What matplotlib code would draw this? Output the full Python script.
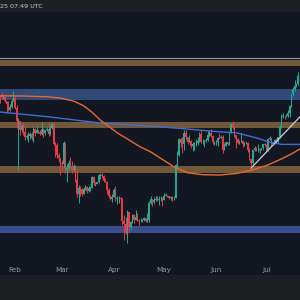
import pandas as pd
import numpy as np
import matplotlib
matplotlib.use('Agg')
import matplotlib.pyplot as plt
import matplotlib.dates as mdates
from matplotlib.patches import Rectangle

# ==========================================
# 1. 数据 (ETH 日线, 2025-01-23 起)
# ==========================================
start_day = '2025-01-23'
first_open = 3340

close = [3330, 3310, 3320, 3240, 3180, 3080, 3120, 3250, 3300,
         3110, 2870, 2880, 2730, 2790, 2690, 2620, 2630, 2630, 2660, 2600, 2740, 2680, 2720,
         2690, 2660, 2740, 2670, 2720, 2740, 2660, 2760, 2820, 2510, 2490, 2340, 2310, 2240,
         2220, 2520, 2150, 2170, 2240, 2200, 2140, 2200, 2020, 1860, 1920, 1910, 1860, 1910,
         1940, 1890, 1930, 1930, 2060, 1980, 1970, 1990, 2080, 2080, 2070, 2010, 2000, 1900,
         1830, 1800, 1820,
         1900, 1800, 1810, 1810, 1800, 1580, 1550, 1470, 1670, 1520, 1570, 1640, 1590, 1620,
         1590, 1580, 1580, 1590, 1610, 1580, 1590, 1760, 1800, 1770, 1790, 1800, 1790, 1800,
         1800, 1790,
         1840, 1840, 1830, 1810, 1820, 1810, 1810, 2210, 2340, 2580, 2520, 2500, 2680, 2610,
         2540, 2550, 2470, 2500, 2520, 2520, 2550, 2660, 2530, 2530, 2550, 2560, 2650, 2680,
         2630, 2530, 2530,
         2540, 2600, 2590, 2610, 2420, 2480, 2530, 2510, 2680, 2820, 2770, 2640, 2580, 2520,
         2550, 2550, 2510, 2520, 2520, 2410, 2290, 2230, 2410, 2450, 2420, 2420, 2430, 2440,
         2500, 2490,
         2410, 2580, 2590, 2510, 2520, 2570, 2540, 2610, 2770, 2950, 2950, 2940, 2970, 3010,
         3140, 3370, 3480, 3540, 3590, 3760]

high = [3350, 3420, 3350, 3370, 3250, 3250, 3180, 3280, 3440,
        3330, 3160, 2920, 2880, 2820, 2850, 2800, 2660, 2700, 2690, 2700, 2780, 2760, 2790,
        2730, 2720, 2850, 2750, 2730, 2780, 2850, 2800, 2850, 2830, 2530, 2520, 2380, 2310,
        2270, 2550, 2520, 2220, 2280, 2320, 2260, 2220, 2210, 2140, 1960, 1950, 1920, 1940,
        1960, 1950, 1950, 1940, 2070, 2070, 2000, 2000, 2090, 2100, 2100, 2080, 2040, 2010,
        1920, 1850, 1860,
        1920, 1950, 1830, 1830, 1820, 1810, 1640, 1620, 1690, 1670, 1580, 1650, 1650, 1690,
        1660, 1600, 1610, 1600, 1620, 1610, 1660, 1780, 1830, 1800, 1820, 1830, 1830, 1830,
        1840, 1820,
        1870, 1870, 1850, 1840, 1840, 1830, 1840, 2220, 2400, 2600, 2600, 2620, 2730, 2720,
        2620, 2640, 2560, 2530, 2540, 2580, 2620, 2690, 2730, 2580, 2560, 2590, 2710, 2730,
        2740, 2650, 2550,
        2560, 2610, 2670, 2650, 2650, 2520, 2540, 2540, 2690, 2830, 2880, 2790, 2640, 2590,
        2560, 2680, 2560, 2530, 2550, 2530, 2440, 2290, 2420, 2480, 2460, 2510, 2450, 2450,
        2510, 2520,
        2500, 2590, 2630, 2600, 2520, 2580, 2590, 2620, 2800, 2990, 3020, 2960, 3000, 3080,
        3160, 3390, 3520, 3680, 3610, 3860]

low = [3200, 3290, 3280, 3230, 3020, 3060, 3050, 3100, 3250,
       3090, 2760, 2150, 2650, 2700, 2650, 2560, 2580, 2530, 2580, 2570, 2540, 2630, 2670,
       2670, 2650, 2650, 2610, 2650, 2710, 2630, 2650, 2740, 2490, 2320, 2300, 2250, 2080,
       2150, 2170, 2100, 1990, 2140, 2180, 2100, 2130, 2000, 1820, 1760, 1840, 1830, 1860,
       1900, 1870, 1880, 1890, 1920, 1960, 1950, 1970, 1980, 2030, 2040, 1990, 1990, 1860,
       1810, 1790, 1770,
       1820, 1780, 1750, 1760, 1780, 1540, 1410, 1460, 1385, 1470, 1510, 1560, 1560, 1590,
       1580, 1540, 1570, 1570, 1580, 1570, 1570, 1570, 1750, 1730, 1750, 1780, 1780, 1740,
       1780, 1730,
       1790, 1830, 1820, 1800, 1790, 1780, 1790, 1810, 2170, 2330, 2460, 2380, 2420, 2560,
       2500, 2530, 2440, 2400, 2410, 2480, 2490, 2540, 2520, 2510, 2460, 2540, 2550, 2610,
       2620, 2500, 2490,
       2490, 2480, 2580, 2590, 2380, 2410, 2470, 2490, 2490, 2680, 2740, 2620, 2440, 2500,
       2510, 2540, 2460, 2480, 2500, 2390, 2270, 2150, 2220, 2400, 2400, 2390, 2380, 2420,
       2420, 2470,
       2390, 2400, 2570, 2480, 2490, 2500, 2520, 2520, 2600, 2750, 2930, 2910, 2940, 2940,
       2950, 3120, 3330, 3440, 3530, 3570]

# 均线取样点
ma_slow_dates = ['2025-01-23', '2025-02-05', '2025-02-20', '2025-02-28', '2025-03-08',
                 '2025-03-14', '2025-03-19', '2025-03-24', '2025-04-03', '2025-04-17',
                 '2025-04-23', '2025-05-01', '2025-05-08', '2025-05-15', '2025-05-24',
                 '2025-06-03', '2025-06-13', '2025-06-22', '2025-07-02', '2025-07-10',
                 '2025-07-16', '2025-07-21']
ma_slow = [3345, 3340, 3325, 3300, 3240, 3150, 3030, 2890, 2680, 2460, 2390, 2270, 2170,
           2110, 2085, 2080, 2100, 2140, 2210, 2290, 2360, 2430]

ma_fast_dates = ['2025-01-23', '2025-02-22', '2025-03-24', '2025-04-23', '2025-05-13',
                 '2025-06-03', '2025-06-13', '2025-06-25', '2025-07-02', '2025-07-10',
                 '2025-07-21']
ma_fast = [3035, 2945, 2840, 2790, 2745, 2695, 2680, 2600, 2540, 2500, 2500]

trend_dates = ['2025-06-22', '2025-07-21']
trend_vals = [2170, 2945]

# 水平区域
orange_zones = [(4000, 4140), (2752, 2863), (2110, 2196)]
blue_zones = [(3260, 3476, '#2f4a78'), (1473, 1533, '#3a4d8c')]
top_line = 4190

month_ticks = ['2025-02-01', '2025-03-01', '2025-04-01', '2025-05-01', '2025-06-01', '2025-07-01']
month_labels = ['Feb', 'Mar', 'Apr', 'May', 'Jun', 'Jul']

# ==========================================
# 2. 绘图
# ==========================================
bg = '#131722'
fig = plt.figure(figsize=(3, 3), dpi=100, facecolor=bg)
fig.patches.append(Rectangle((0, 1 - 12 / 300), 1, 12 / 300, transform=fig.transFigure,
                             facecolor='#1e1f23', edgecolor='none', zorder=0))
fig.patches.append(Rectangle((0, 0), 1, 25 / 300, transform=fig.transFigure,
                             facecolor='#1e1f22', edgecolor='none', zorder=0))
fig.text(0.0, 1 - 6 / 300, '25 07:49 UTC', color='#c8cad0', fontsize=4.6,
         va='center', ha='left')

ax = fig.add_axes([0, 38 / 300, 1, 250 / 300])
ax.set_facecolor(bg)
for s in ax.spines.values():
    s.set_visible(False)

dates = pd.date_range(start_day, periods=len(close), freq='D')
x = mdates.date2num(dates)
c = np.array(close, dtype=float)
o = np.concatenate([[first_open], c[:-1]])
h = np.array(high, dtype=float)
l = np.array(low, dtype=float)
up = c >= o
colors = np.where(up, '#22ab94', '#f23645')

for lo_, hi_ in orange_zones:
    ax.axhspan(lo_, hi_, color='#72583a', lw=0, zorder=1)
for lo_, hi_, col in blue_zones:
    ax.axhspan(lo_, hi_, color=col, lw=0, zorder=1)
ax.axhline(top_line, color='#9a9ca3', lw=0.8, zorder=1)

ax.vlines(x, l, h, colors=colors, lw=0.7, zorder=3)
ax.bar(x, np.maximum(np.abs(c - o), 4), bottom=np.minimum(o, c), width=0.85,
       color=colors, lw=0, zorder=3)

ax.plot(mdates.date2num(pd.to_datetime(ma_fast_dates)), ma_fast, color='#3d6fd6', lw=1, zorder=4)
ax.plot(mdates.date2num(pd.to_datetime(ma_slow_dates)), ma_slow, color='#e8692c', lw=1, zorder=4)
ax.plot(mdates.date2num(pd.to_datetime(trend_dates)), trend_vals, color='#c9cfdc', lw=0.9, zorder=5)

ax.set_yscale('log')
ax.set_ylim(1236, 5523)
x0 = mdates.date2num(pd.Timestamp('2025-02-01')) - 15 / 1.675
ax.set_xlim(x0, x0 + 300 / 1.675)

ax.set_yticks([])
ax.yaxis.set_minor_locator(matplotlib.ticker.NullLocator())
ax.set_xticks(mdates.date2num(pd.to_datetime(month_ticks)))
ax.set_xticklabels(month_labels)
ax.tick_params(axis='x', length=0, pad=3.5, labelsize=5.2, labelcolor='#9598a1')

plt.savefig('out.png', dpi=100, facecolor=bg)
